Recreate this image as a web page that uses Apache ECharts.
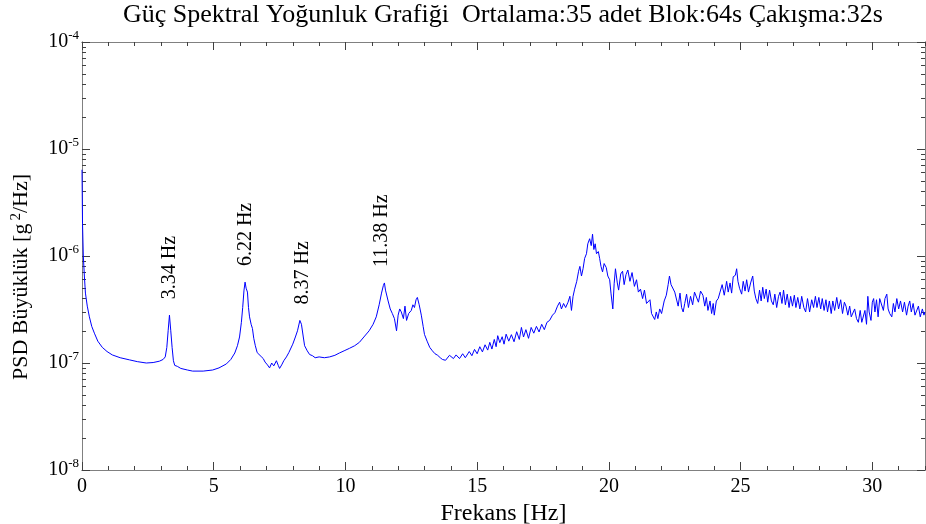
<!DOCTYPE html>
<html>
<head>
<meta charset="utf-8">
<script src="https://cdn.jsdelivr.net/npm/echarts@6/dist/echarts.min.js"></script>
<style>
html, body { margin: 0; padding: 0; background: #fff; }
#chart { width: 926px; height: 524px; }
</style>
</head>
<body>
<div id="chart"></div>
<script>
// frequencies [Hz] and PSD values [g^2/Hz]
var freqLow = [
  0, 0.02, 0.05, 0.09, 0.13, 0.2, 0.28, 0.37, 0.47, 0.6,
  0.77, 0.95, 1.15, 1.45, 1.8, 2.1, 2.44, 2.7, 2.94, 3.08,
  3.16, 3.22, 3.27, 3.32, 3.37, 3.42, 3.47, 3.52, 3.62, 3.75,
  4.0, 4.2, 4.6, 4.96, 5.2, 5.48, 5.65, 5.8, 5.9, 5.98,
  6.05, 6.1, 6.15, 6.19, 6.23, 6.28, 6.32, 6.36, 6.42, 6.47,
  6.52, 6.58, 6.65, 6.72, 6.8, 6.88, 6.95, 7.04, 7.12, 7.2,
  7.28, 7.38, 7.45, 7.5, 7.58, 7.66, 7.76, 7.85, 7.92, 8.0,
  8.1, 8.18, 8.27, 8.33, 8.4, 8.45, 8.55, 8.64, 8.75, 8.85,
  9.0, 9.2, 9.4, 9.6, 9.77, 9.95, 10.15, 10.35, 10.53, 10.7,
  10.9, 11.05, 11.17, 11.28, 11.37, 11.44, 11.48, 11.52, 11.56, 11.62,
  11.7, 11.78, 11.86, 11.94, 12.0, 12.06, 12.12, 12.2, 12.26, 12.32,
  12.4, 12.5, 12.56, 12.62, 12.68, 12.73, 12.8, 12.88, 12.95, 13.0,
  13.1, 13.2, 13.3, 13.4, 13.5
];
var psdLow = [
  6.4e-6, 2.0e-6, 1.0e-6, 6.5e-7, 4.5e-7, 3.4e-7, 2.7e-7, 2.2e-7, 1.9e-7, 1.6e-7,
  1.4e-7, 1.28e-7, 1.19e-7, 1.12e-7, 1.07e-7, 1.03e-7, 1.0e-7, 1.01e-7, 1.04e-7, 1.08e-7,
  1.14e-7, 1.4e-7, 2.0e-7, 2.8e-7, 2.0e-7, 1.4e-7, 1.05e-7, 9.5e-8, 9.3e-8, 8.9e-8,
  8.6e-8, 8.4e-8, 8.4e-8, 8.6e-8, 9.0e-8, 9.8e-8, 1.08e-7, 1.24e-7, 1.45e-7, 1.75e-7,
  2.4e-7, 3.3e-7, 4.8e-7, 5.7e-7, 5.0e-7, 4.6e-7, 3.3e-7, 2.7e-7, 2.3e-7, 2.1e-7,
  1.7e-7, 1.45e-7, 1.25e-7, 1.3e-7, 1.15e-7, 1.1e-7, 1.02e-7, 9.6e-8, 9.0e-8, 1.0e-7,
  9.4e-8, 1.05e-7, 9.5e-8, 8.9e-8, 9.6e-8, 1.05e-7, 1.14e-7, 1.25e-7, 1.2e-7, 1.5e-7,
  1.75e-7, 2.0e-7, 2.5e-7, 2.3e-7, 1.75e-7, 1.45e-7, 1.3e-7, 1.2e-7, 1.17e-7, 1.12e-7,
  1.14e-7, 1.12e-7, 1.14e-7, 1.18e-7, 1.24e-7, 1.3e-7, 1.37e-7, 1.45e-7, 1.56e-7, 1.75e-7,
  2.0e-7, 2.3e-7, 2.7e-7, 3.5e-7, 4.5e-7, 5.3e-7, 5.6e-7, 4.8e-7, 5.0e-7, 3.8e-7,
  3.2e-7, 2.9e-7, 2.6e-7, 2.0e-7, 2.8e-7, 3.2e-7, 3.0e-7, 2.6e-7, 3.4e-7, 2.5e-7,
  2.9e-7, 3.1e-7, 3.5e-7, 3.3e-7, 3.9e-7, 4.1e-7, 3.5e-7, 2.8e-7, 2.2e-7, 1.85e-7,
  1.6e-7, 1.4e-7, 1.3e-7, 1.22e-7, 1.18e-7
];
var freqMid = [
  13.6, 13.68, 13.8, 13.95, 14.1, 14.2, 14.33, 14.45, 14.55, 14.7,
  14.8, 14.9, 15.0, 15.1, 15.2, 15.3, 15.4, 15.48, 15.56, 15.65,
  15.72, 15.78, 15.86, 15.95, 16.02, 16.1, 16.2, 16.3, 16.4, 16.5,
  16.6, 16.68, 16.76, 16.85, 16.95, 17.05, 17.15, 17.25, 17.35, 17.45,
  17.55, 17.65, 17.75, 17.86, 17.95, 18.05, 18.13, 18.2, 18.28, 18.36,
  18.45, 18.52, 18.58, 18.64, 18.7, 18.78, 18.85, 18.9, 18.96, 19.02,
  19.08, 19.15, 19.2, 19.27, 19.33, 19.38, 19.43, 19.48, 19.53, 19.6,
  19.65, 19.7, 19.76, 19.82, 19.9, 19.96, 20.03
];
var psdMid = [
  1.12e-7, 1.08e-7, 1.06e-7, 1.18e-7, 1.1e-7, 1.19e-7, 1.1e-7, 1.22e-7, 1.12e-7, 1.28e-7,
  1.17e-7, 1.34e-7, 1.22e-7, 1.42e-7, 1.27e-7, 1.48e-7, 1.32e-7, 1.56e-7, 1.35e-7, 1.66e-7,
  1.42e-7, 1.8e-7, 1.55e-7, 1.76e-7, 1.5e-7, 1.86e-7, 1.6e-7, 1.84e-7, 1.58e-7, 1.96e-7,
  1.66e-7, 2.15e-7, 1.75e-7, 2.05e-7, 1.7e-7, 2.15e-7, 1.9e-7, 2.2e-7, 1.95e-7, 2.3e-7,
  2.05e-7, 2.4e-7, 2.5e-7, 2.8e-7, 2.95e-7, 3.4e-7, 3.7e-7, 3.2e-7, 3.6e-7, 3.3e-7,
  3.7e-7, 4.2e-7, 3.1e-7, 4.2e-7, 4.9e-7, 5.8e-7, 7.2e-7, 8.0e-7, 6.5e-7, 7.6e-7,
  9.5e-7, 1.05e-6, 1.3e-6, 1.45e-6, 1.25e-6, 1.6e-6, 1.15e-6, 1.3e-6, 1.05e-6, 1.1e-6,
  9.5e-7, 8.0e-7, 7.1e-7, 8.5e-7, 7.8e-7, 6.5e-7, 6.0e-7
];
var freqHigh = [
  20.08, 20.15, 20.2, 20.25, 20.32, 20.37, 20.45, 20.52, 20.58, 20.65,
  20.72, 20.8, 20.88, 20.97, 21.05, 21.12, 21.2, 21.28, 21.35, 21.43,
  21.5, 21.56, 21.62, 21.68, 21.74, 21.8, 21.86, 21.93, 22.0, 22.1,
  22.18, 22.25, 22.3, 22.36, 22.42, 22.5, 22.57, 22.63, 22.7, 22.76,
  22.82, 22.88, 22.95, 23.02, 23.1, 23.18, 23.25, 23.32, 23.4, 23.48,
  23.57, 23.64, 23.7, 23.76, 23.84, 23.9, 23.96, 24.0, 24.08, 24.15,
  24.22, 24.3, 24.38, 24.47, 24.53, 24.6, 24.66, 24.72, 24.8, 24.85,
  24.9, 24.96, 25.04, 25.1, 25.17, 25.23, 25.3, 25.38, 25.46, 25.52,
  25.58, 25.65, 25.72, 25.78, 25.84, 25.9, 25.97, 26.03, 26.1, 26.17,
  26.24, 26.3, 26.37, 26.44, 26.5, 26.57, 26.63, 26.7, 26.77, 26.84,
  26.9, 26.97, 27.04, 27.1, 27.17, 27.25, 27.32, 27.4, 27.47, 27.54,
  27.62, 27.7, 27.77, 27.84, 27.9, 27.97, 28.04, 28.1, 28.17, 28.24,
  28.3, 28.37, 28.44, 28.5, 28.57, 28.65, 28.72, 28.8, 28.87, 28.94,
  29.0, 29.07, 29.14, 29.2, 29.26, 29.33, 29.4, 29.47, 29.54, 29.6,
  29.66, 29.72, 29.78, 29.83, 29.88, 29.95, 30.0, 30.05, 30.1, 30.16,
  30.22, 30.28, 30.35, 30.42, 30.48, 30.55, 30.6, 30.66, 30.74, 30.8,
  30.86, 30.93, 31.0, 31.07, 31.15, 31.22, 31.3, 31.36, 31.42, 31.48,
  31.55, 31.62, 31.68, 31.75, 31.82, 31.9, 31.96, 32.0
];
var psdHigh = [
  4.5e-7, 3.2e-7, 5.5e-7, 7.6e-7, 5.6e-7, 4.8e-7, 6.8e-7, 7.2e-7, 5.4e-7, 6.7e-7,
  7.4e-7, 5.8e-7, 7.0e-7, 5.2e-7, 6.0e-7, 4.6e-7, 4.9e-7, 4.0e-7, 4.8e-7, 3.6e-7,
  3.7e-7, 3.9e-7, 2.9e-7, 2.8e-7, 2.55e-7, 3.0e-7, 2.6e-7, 3.2e-7, 2.9e-7, 3.8e-7,
  4.3e-7, 5.4e-7, 6.5e-7, 5.4e-7, 5.6e-7, 4.6e-7, 4.8e-7, 3.4e-7, 4.5e-7, 3.3e-7,
  3.0e-7, 3.6e-7, 4.4e-7, 3.3e-7, 4.2e-7, 3.5e-7, 4.6e-7, 4.8e-7, 3.7e-7, 4.7e-7,
  4.3e-7, 3.4e-7, 4.1e-7, 3.1e-7, 3.8e-7, 2.9e-7, 3.6e-7, 2.8e-7, 3.8e-7, 4.0e-7,
  4.6e-7, 5.4e-7, 4.3e-7, 5.8e-7, 4.6e-7, 5.6e-7, 4.5e-7, 6.4e-7, 6.6e-7, 7.6e-7,
  5.8e-7, 5.0e-7, 4.4e-7, 5.8e-7, 4.7e-7, 6.0e-7, 4.6e-7, 5.6e-7, 6.5e-7, 4.7e-7,
  4.0e-7, 3.6e-7, 4.8e-7, 3.8e-7, 5.1e-7, 4.0e-7, 4.9e-7, 3.7e-7, 4.8e-7, 3.8e-7,
  3.5e-7, 4.4e-7, 3.3e-7, 4.2e-7, 4.6e-7, 3.6e-7, 4.8e-7, 3.5e-7, 4.4e-7, 3.3e-7,
  4.2e-7, 3.4e-7, 4.3e-7, 3.3e-7, 4.1e-7, 3.2e-7, 4.2e-7, 3.3e-7, 3.0e-7, 4.0e-7,
  3.0e-7, 3.9e-7, 3.3e-7, 4.2e-7, 3.3e-7, 4.1e-7, 3.2e-7, 4.0e-7, 3.1e-7, 3.9e-7,
  3.0e-7, 3.8e-7, 2.9e-7, 3.8e-7, 3.1e-7, 4.1e-7, 3.2e-7, 3.9e-7, 2.9e-7, 3.7e-7,
  3.4e-7, 2.8e-7, 3.4e-7, 2.7e-7, 2.6e-7, 3.2e-7, 2.6e-7, 2.4e-7, 3.1e-7, 2.4e-7,
  2.3e-7, 3.1e-7, 2.3e-7, 4.2e-7, 3.0e-7, 2.5e-7, 3.7e-7, 4.0e-7, 3.0e-7, 3.9e-7,
  2.7e-7, 4.0e-7, 4.1e-7, 3.1e-7, 4.0e-7, 4.4e-7, 3.2e-7, 2.9e-7, 2.7e-7, 3.6e-7,
  3.0e-7, 4.0e-7, 3.2e-7, 3.8e-7, 3.0e-7, 3.7e-7, 2.8e-7, 3.4e-7, 3.8e-7, 3.0e-7,
  3.6e-7, 2.8e-7, 2.8e-7, 3.4e-7, 2.7e-7, 3.2e-7, 2.8e-7, 3.0e-7
];

// peak annotations
var peakFreqs = [3.34, 6.22, 8.37, 11.38];
var peakTexts = ['3.34 Hz', '6.22 Hz', '8.37 Hz', '11.38 Hz'];

// axis ticks
var xMajor = [0, 5, 10, 15, 20, 25, 30];
var xMinor = [];
for (var i = 0; i <= 32; i++) xMinor.push(i);
var yMajor = [1e-8, 1e-7, 1e-6, 1e-5, 1e-4];
var yMinor = [];
for (var d = -8; d < -4; d++) {
  for (var k = 2; k <= 9; k++) yMinor.push(k * Math.pow(10, d));
}

var freqs = freqLow.concat(freqMid, freqHigh);
var psds = psdLow.concat(psdMid, psdHigh);
var data = freqs.map(function (f, i) { return [f, psds[i]]; });

// label anchor = highest point near each annotated frequency
var peakMarks = peakFreqs.map(function (pf, j) {
  var best = 0;
  data.forEach(function (p) {
    if (Math.abs(p[0] - pf) < 0.2 && p[1] > best) best = p[1];
  });
  return { coord: [pf, best], value: peakTexts[j] };
});

var FONT = '"Liberation Serif", "Times New Roman", serif';
var AXIS_COL = '#808080';
var TICK_COL = '#404040';

function xAxisDef(pos, ticks, len, showLabel, name) {
  return {
    type: 'value', position: pos, min: 0, max: 32,
    name: name || '', nameLocation: 'middle', nameGap: 27,
    nameTextStyle: { fontFamily: FONT, fontSize: 24, color: '#000' },
    axisLine: { show: true, onZero: false, lineStyle: { color: AXIS_COL, width: 1 } },
    axisTick: { show: true, inside: true, length: len, customValues: ticks,
      lineStyle: { color: TICK_COL, width: 1 } },
    axisLabel: { show: showLabel, customValues: ticks, margin: 7,
      fontFamily: FONT, fontSize: 20, color: '#000' },
    splitLine: { show: false }
  };
}

function yAxisDef(pos, ticks, len, showLabel, name) {
  return {
    type: 'log', logBase: 10, position: pos, min: 1e-8, max: 1e-4,
    name: name || '', nameLocation: 'middle', nameGap: 48,
    nameTextStyle: { fontFamily: FONT, fontSize: 22, color: '#000', padding: [0, 42, 0, 0],
      rich: { s: { fontFamily: FONT, fontSize: 15, color: '#000', padding: [0, 0, 10, 3] } } },
    axisLine: { show: true, onZero: false, lineStyle: { color: AXIS_COL, width: 1 } },
    axisTick: { show: true, inside: true, length: len, customValues: ticks,
      lineStyle: { color: TICK_COL, width: 1 } },
    axisLabel: { show: showLabel, customValues: ticks, margin: 3,
      formatter: function (v) {
        return '{b|10}{s|' + Math.round(Math.log10(v)) + '}';
      },
      rich: {
        b: { fontFamily: FONT, fontSize: 20, color: '#000' },
        s: { fontFamily: FONT, fontSize: 13, color: '#000', padding: [0, 0, 12, 0] }
      }
    },
    splitLine: { show: false }
  };
}

var chart = echarts.init(document.getElementById('chart'));
chart.setOption({
  backgroundColor: '#fff',
  animation: false,
  title: {
    text: 'Güç Spektral Yoğunluk Grafiği  Ortalama:35 adet Blok:64s Çakışma:32s',
    left: 503, top: 2, textAlign: 'center', padding: 0,
    textStyle: { fontFamily: FONT, fontSize: 26, fontWeight: 'normal', color: '#000' }
  },
  grid: { left: 82, right: 1, top: 42, bottom: 54, outerBoundsMode: 'none', containLabel: false },
  xAxis: [
    xAxisDef('bottom', xMajor, 8, true, 'Frekans [Hz]'),
    xAxisDef('bottom', xMinor, 4, false),
    xAxisDef('top', xMajor, 8, false),
    xAxisDef('top', xMinor, 4, false)
  ],
  yAxis: [
    yAxisDef('left', yMajor, 8, true, 'PSD Büyüklük [g{s|2}/Hz]'),
    yAxisDef('left', yMinor, 4, false),
    yAxisDef('right', yMajor, 8, false),
    yAxisDef('right', yMinor, 4, false)
  ],
  series: [{
    type: 'line',
    data: data,
    xAxisIndex: 0, yAxisIndex: 0,
    showSymbol: false,
    symbol: 'none',
    lineStyle: { color: '#0000ff', width: 1 },
    itemStyle: { color: '#0000ff' },
    markPoint: {
      symbol: 'circle', symbolSize: 0,
      label: {
        show: true, position: 'inside', rotate: 90,
        align: 'left', verticalAlign: 'middle', offset: [16, 0],
        fontFamily: FONT, fontSize: 20, color: '#000',
        formatter: function (p) { return p.value; }
      },
      data: peakMarks
    }
  }]
});
</script>
</body>
</html>
